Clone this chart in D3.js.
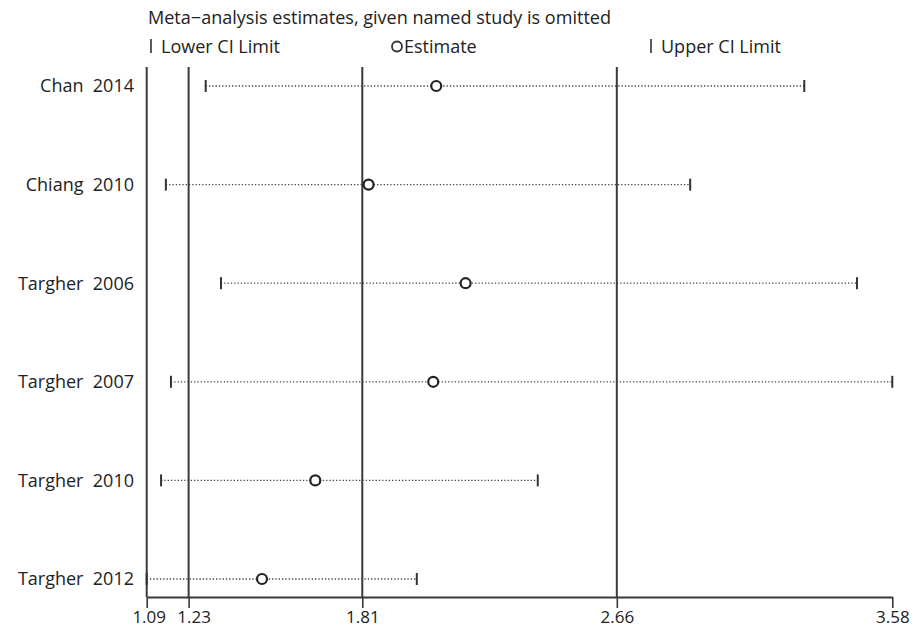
<!DOCTYPE html>
<html><head><meta charset="utf-8">
<script src="https://cdn.jsdelivr.net/npm/d3@7"></script>
<style>body{margin:0;background:#fff}svg{display:block}text{font-family:"Open Sans",sans-serif;fill:#222}</style>
</head><body><svg id="c" width="920" height="634"></svg>
<script>
const studies = ["Chan  2014","Chiang  2010","Targher  2006","Targher  2007","Targher  2010","Targher  2012"];
const estimate = [2.057,1.831,2.155,2.047,1.653,1.475];
const lowerCI = [1.287,1.154,1.338,1.171,1.138,1.09];
const upperCI = [3.286,2.905,3.462,3.58,2.396,1.992];
const refLines = [1.23,1.81,2.66];
const tickValues = [1.09,1.23,1.81,2.66,3.58];
const title = "Meta\u2212analysis estimates, given named study is omitted";
const legendItems = ["Lower CI Limit","Estimate","Upper CI Limit"];

const svg = d3.select("#c");
const x = d3.scaleLinear().domain([1.09,3.58]).range([146.7,892.3]);
const y = d3.scalePoint().domain(studies).range([86,579]);
const yTop = 67, yAxis = 597;
const ink = "#333";
const fs = 18;

// title & legend
svg.append("text").attr("x",148).attr("y",24).attr("font-size",fs).attr("textLength",463).attr("lengthAdjust","spacingAndGlyphs").text(title);
const leg = svg.append("g");
leg.append("line").attr("x1",151).attr("x2",151).attr("y1",39).attr("y2",53).attr("stroke",ink).attr("stroke-width",1.6);
leg.append("text").attr("x",161).attr("y",53).attr("font-size",fs).text(legendItems[0]);
leg.append("circle").attr("cx",397).attr("cy",46.5).attr("r",5).attr("fill","none").attr("stroke",ink).attr("stroke-width",1.8);
leg.append("text").attr("x",404).attr("y",53).attr("font-size",fs).text(legendItems[1]);
leg.append("line").attr("x1",651).attr("x2",651).attr("y1",39).attr("y2",53).attr("stroke",ink).attr("stroke-width",1.6);
leg.append("text").attr("x",661).attr("y",53).attr("font-size",fs).text(legendItems[2]);

// left boundary and reference lines
svg.append("line").attr("x1",x(1.09)).attr("x2",x(1.09)).attr("y1",yTop).attr("y2",yAxis).attr("stroke","#3a3a3a").attr("stroke-width",2);
svg.selectAll(".ref").data(refLines).join("line").attr("class","ref")
  .attr("x1",d=>x(d)).attr("x2",d=>x(d)).attr("y1",yTop).attr("y2",yAxis)
  .attr("stroke","#3a3a3a").attr("stroke-width",2);

// x axis
const ax = svg.append("g").attr("transform",`translate(0,${yAxis})`)
  .call(d3.axisBottom(x).tickValues(tickValues).tickFormat(d3.format(".2f")).tickSize(11).tickPadding(3).tickSizeOuter(0));
ax.select(".domain").attr("stroke","#3a3a3a").attr("stroke-width",2);
ax.selectAll(".tick line").attr("stroke","#3a3a3a").attr("stroke-width",1.6);
ax.selectAll(".tick text").attr("font-size",17).attr("font-family","Open Sans, sans-serif").attr("fill","#222");
ax.selectAll(".tick text").filter(d=>d===1.09).attr("dx",2);
ax.selectAll(".tick text").filter(d=>d===1.23).attr("dx",5);

// rows
const rows = svg.selectAll(".row").data(studies).join("g").attr("class","row");
rows.append("line")
  .attr("x1",(d,i)=>x(lowerCI[i])).attr("x2",(d,i)=>x(upperCI[i]))
  .attr("y1",d=>y(d)).attr("y2",d=>y(d))
  .attr("stroke","#444").attr("stroke-width",1.3).attr("stroke-dasharray","1.3,2");
rows.append("line")
  .attr("x1",(d,i)=>x(lowerCI[i])).attr("x2",(d,i)=>x(lowerCI[i]))
  .attr("y1",d=>y(d)-6).attr("y2",d=>y(d)+6).attr("stroke",ink).attr("stroke-width",2);
rows.append("line")
  .attr("x1",(d,i)=>x(upperCI[i])).attr("x2",(d,i)=>x(upperCI[i]))
  .attr("y1",d=>y(d)-6).attr("y2",d=>y(d)+6).attr("stroke",ink).attr("stroke-width",2);
rows.append("circle")
  .attr("cx",(d,i)=>x(estimate[i])).attr("cy",d=>y(d)).attr("r",5)
  .attr("fill","#fff").attr("stroke","#222").attr("stroke-width",2.2);
rows.append("text")
  .attr("x",134).attr("y",d=>y(d)).attr("dy","0.35em").attr("text-anchor","end")
  .attr("font-size",fs).style("white-space","pre").attr("xml:space","preserve").text(d=>d);
</script></body></html>
